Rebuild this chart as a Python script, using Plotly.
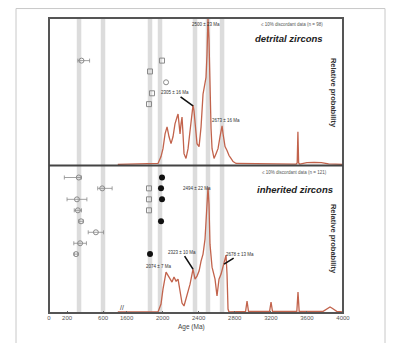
import plotly.graph_objects as go
from plotly.subplots import make_subplots

# ---------------- data ----------------
# broken age axis: left segment 0-760 Ma, right segment 1500-4000 Ma
left_range = [0, 760]
right_range = [1500, 4000]
left_ticks = [0, 200, 600]
right_ticks = [1600, 2000, 2400, 2800, 3200, 3600, 4000]

# reference bands (Ma)
band_ages = [333, 599, 1860, 1971, 2359, 2503, 2659]
band_half_width = 25

# detrital zircons: relative probability curve
det_age = [1500, 1949, 1982, 2004, 2027, 2049, 2071, 2093, 2115, 2137, 2160, 2171, 2182, 2193,
           2204, 2215, 2226, 2237, 2259, 2282, 2304, 2326, 2337, 2348, 2359, 2381, 2404, 2426,
           2448, 2470, 2481, 2492, 2503, 2514, 2525, 2537, 2548, 2570, 2592, 2614, 2636, 2659,
           2670, 2692, 2714, 2736, 2758, 2781, 2814, 3480, 3492, 3500, 3508, 3520, 3600, 3680,
           3760, 3840, 4000]
det_prob = [0, 0.007, 0.054, 0.108, 0.209, 0.257, 0.189, 0.142, 0.189, 0.277, 0.324, 0.345, 0.277,
            0.209, 0.277, 0.324, 0.209, 0.074, 0.041, 0.108, 0.230, 0.365, 0.405, 0.365, 0.277,
            0.142, 0.122, 0.257, 0.480, 0.581, 0.595, 0.750, 1.0, 0.851, 0.514, 0.243, 0.108,
            0.041, 0.074, 0.108, 0.189, 0.264, 0.209, 0.122, 0.095, 0.061, 0.041, 0.020, 0.007,
            0.003, 0.01, 0.223, 0.01, 0.003, 0.012, 0.015, 0.012, 0.004, 0]

# inherited zircons: relative probability curve
inh_age = [1500, 1949, 1982, 2004, 2038, 2060, 2082, 2104, 2126, 2149, 2171, 2193, 2215, 2237,
           2259, 2282, 2304, 2337, 2359, 2381, 2404, 2426, 2448, 2470, 2492, 2503, 2514, 2525,
           2548, 2570, 2581, 2603, 2625, 2648, 2670, 2692, 2703, 2714, 2725, 2736, 2920, 2936,
           2952, 3186, 3202, 3218, 3488, 3501, 3514, 3780, 3830, 3856, 3880, 3930, 4000]
inh_prob = [0, 0, 0.054, 0.156, 0.272, 0.252, 0.224, 0.204, 0.238, 0.211, 0.224, 0.136, 0.061,
            0.041, 0.088, 0.143, 0.190, 0.293, 0.224, 0.245, 0.279, 0.347, 0.395, 0.497, 0.735,
            0.850, 0.735, 0.463, 0.306, 0.259, 0.224, 0.109, 0.224, 0.259, 0.313, 0.361, 0.388,
            0.259, 0.020, 0, 0.004, 0.075, 0.004, 0.004, 0.068, 0.004, 0.004, 0.136, 0.004,
            0.004, 0.025, 0.034, 0.025, 0.004, 0]

# individual spot ages (open symbols with 2-sigma bars)
det_spot_age = [360]
det_spot_y = [0.709]
det_spot_minus = [40]
det_spot_plus = [90]
det_sq_age = [1993, 1860, 1882, 1849]
det_sq_y = [0.709, 0.635, 0.486, 0.412]
det_ci_age = [2038]
det_ci_y = [0.561]

inh_spot_age = [330, 590, 310, 320, 355, 520, 345, 300]
inh_spot_y = [0.918, 0.844, 0.769, 0.694, 0.619, 0.544, 0.469, 0.395]
inh_spot_minus = [160, 50, 110, 40, 25, 85, 70, 20]
inh_spot_plus = [30, 110, 110, 40, 25, 85, 70, 20]
inh_sq_age = [1849, 1849, 1849]
inh_sq_y = [0.844, 0.769, 0.694]
inh_dot_age = [1993, 1982, 1993, 1982, 1860]
inh_dot_y = [0.918, 0.844, 0.769, 0.619, 0.395]

# peak labels
det_labels = [("2500 ± 23 Ma", 2480, 0.955), ("2673 ± 16 Ma", 2703, 0.30)]
det_arrow_labels = [("2305 ± 16 Ma", 2337, 0.40, -18, -13)]
inh_labels = [("2494 ± 22 Ma", 2381, 0.844), ("2074 ± 7 Ma", 1949, 0.313)]
inh_arrow_labels = [("2323 ± 10 Ma", 2337, 0.293, -11, -17), ("2678 ± 13 Ma", 2681, 0.327, 16, -10)]

FONT = "Liberation Sans"
CURVE = "#c2634c"
SYM = "#8a8a8a"

fig = make_subplots(rows=2, cols=2,
                    column_widths=[left_range[1] - left_range[0], right_range[1] - right_range[0]],
                    horizontal_spacing=0, vertical_spacing=0)

# curves
fig.add_trace(go.Scatter(x=det_age, y=det_prob, mode="lines",
                         line=dict(color=CURVE, width=1.3)), row=1, col=2)
fig.add_trace(go.Scatter(x=inh_age, y=inh_prob, mode="lines",
                         line=dict(color=CURVE, width=1.3)), row=2, col=2)

def bars(x, y, m, p, row, col):
    fig.add_trace(go.Scatter(x=x, y=y, mode="markers",
                             marker=dict(symbol="circle-open", size=5, color=SYM, line=dict(width=1)),
                             error_x=dict(type="data", symmetric=False, array=p, arrayminus=m,
                                          thickness=0.8, width=2, color=SYM)), row=row, col=col)

bars(det_spot_age, det_spot_y, det_spot_minus, det_spot_plus, 1, 1)
bars(inh_spot_age, inh_spot_y, inh_spot_minus, inh_spot_plus, 2, 1)

fig.add_trace(go.Scatter(x=det_sq_age, y=det_sq_y, mode="markers",
                         marker=dict(symbol="square-open", size=5, color=SYM, line=dict(width=1))),
              row=1, col=2)
fig.add_trace(go.Scatter(x=det_ci_age, y=det_ci_y, mode="markers",
                         marker=dict(symbol="circle-open", size=5, color=SYM, line=dict(width=1))),
              row=1, col=2)
fig.add_trace(go.Scatter(x=inh_sq_age, y=inh_sq_y, mode="markers",
                         marker=dict(symbol="square-open", size=5, color=SYM, line=dict(width=1))),
              row=2, col=2)
fig.add_trace(go.Scatter(x=inh_dot_age, y=inh_dot_y, mode="markers",
                         marker=dict(symbol="circle", size=6, color="#111111")),
              row=2, col=2)

# axes
for r in (1, 2):
    fig.update_xaxes(range=left_range, row=r, col=1)
    fig.update_xaxes(range=right_range, row=r, col=2)
    for c in (1, 2):
        fig.update_yaxes(range=[-0.007, 1.0], showticklabels=False, showgrid=False,
                         zeroline=False, ticks="", row=r, col=c)
for c in (1, 2):
    fig.update_xaxes(showticklabels=False, ticks="", row=1, col=c)
fig.update_xaxes(showgrid=False, zeroline=False)
fig.update_xaxes(tickvals=left_ticks, ticks="inside", ticklen=2, tickcolor="#666",
                 tickfont=dict(size=6, color="#555", family=FONT), row=2, col=1)
fig.update_xaxes(tickvals=right_ticks, ticks="inside", ticklen=2, tickcolor="#666",
                 tickfont=dict(size=6, color="#555", family=FONT), row=2, col=2)

ann = []
def txt(text, x, y, xref, yref, size, **kw):
    ann.append(dict(text=text, x=x, y=y, xref=xref, yref=yref, showarrow=False,
                    font=dict(size=size, family=FONT, color=kw.pop("color", "#333")), **kw))

for t, x, y in det_labels:
    txt(t, x, y, "x2", "y2", 4.5)
for t, x, y in inh_labels:
    txt(t, x, y, "x4", "y4", 4.5)
for t, x, y, ax, ay in det_arrow_labels:
    ann.append(dict(text=t, x=x, y=y, xref="x2", yref="y2", ax=ax, ay=ay, showarrow=True,
                    arrowhead=0, arrowwidth=1.6, arrowcolor="#111", standoff=0,
                    font=dict(size=4.5, family=FONT, color="#333")))
for t, x, y, ax, ay in inh_arrow_labels:
    ann.append(dict(text=t, x=x, y=y, xref="x4", yref="y4", ax=ax, ay=ay, showarrow=True,
                    arrowhead=0, arrowwidth=1.6, arrowcolor="#111", standoff=0,
                    font=dict(size=4.5, family=FONT, color="#333")))

txt("≤ 10% discordant data (n = 98)", 3433, 0.953, "x2", "y2", 4.5, color="#555")
txt("<b><i>detrital zircons</i></b>", 3400, 0.858, "x2", "y2", 9.5, color="#222")
txt("≤ 10% discordant data (n = 121)", 3461, 0.952, "x4", "y4", 4.5, color="#555")
txt("<b><i>inherited zircons</i></b>", 3472, 0.837, "x4", "y4", 9.5, color="#222")
txt("<b>Relative probability</b>", 3887, 0.49, "x2", "y2", 7.5, textangle=90, color="#333")
txt("<b>Relative probability</b>", 3887, 0.50, "x4", "y4", 7.5, textangle=90, color="#333")
txt("Age (Ma)", 0.483, -0.068, "paper", "paper", 6.5, color="#444")
txt("//", 0.233, 0.0, "paper", "paper", 7, color="#333")

shapes = []
# grey reference bands through both panels
for a in band_ages:
    left = a < left_range[1]
    for xr, yr in ((("x", "y domain"), ("x3", "y3 domain")) if left
                   else (("x2", "y2 domain"), ("x4", "y4 domain"))):
        shapes.append(dict(type="rect", xref=xr, yref=yr,
                           x0=a - band_half_width, x1=a + band_half_width, y0=0, y1=1,
                           fillcolor="#dcdcdc", line=dict(width=0), layer="below"))
shapes += [
    dict(type="rect", xref="paper", yref="paper", x0=-0.1122, x1=1.1429, y0=-0.2, y1=1.032,
         line=dict(color="#c8c8c8", width=1), fillcolor="rgba(0,0,0,0)", layer="below"),
    dict(type="rect", xref="paper", yref="paper", x0=0, x1=1, y0=0, y1=1,
         line=dict(color="#555", width=2), fillcolor="rgba(0,0,0,0)"),
    dict(type="line", xref="paper", yref="paper", x0=0, x1=1, y0=0.5, y1=0.5,
         line=dict(color="#444", width=2)),
]

# page body has an 8px default margin, so the figure is 8px smaller than the window
fig.update_layout(width=393, height=335, margin=dict(l=41, r=58, t=10, b=30),
                  paper_bgcolor="white", plot_bgcolor="white", showlegend=False,
                  annotations=list(fig.layout.annotations) + ann, shapes=shapes)

fig.write_html("out.html")
